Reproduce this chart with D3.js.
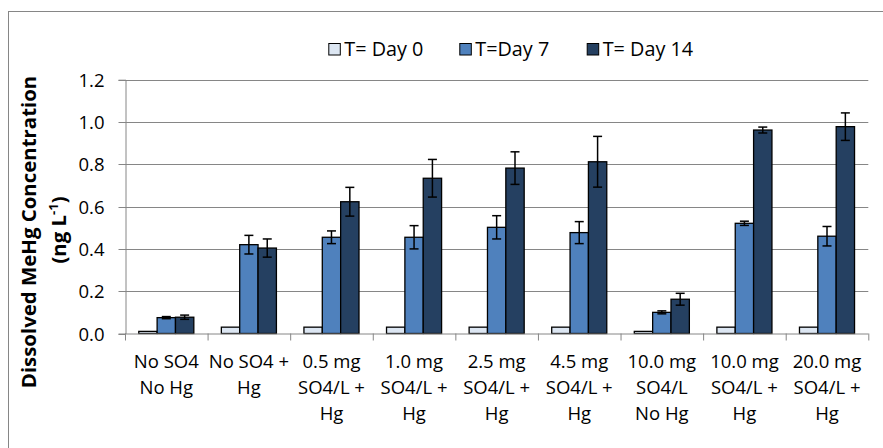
<!DOCTYPE html>
<html>
<head>
<meta charset="utf-8">
<script src="https://cdn.jsdelivr.net/npm/d3@7"></script>
<style>
  html, body { margin: 0; padding: 0; background: #fff; }
  svg { display: block; }
  text { font-family: "Open Sans", "Liberation Sans", sans-serif; fill: #000; }
</style>
</head>
<body>
<svg id="chart" width="883" height="448"></svg>
<script>
// Treatments (x-axis categories), one array of label lines each
const categories = [
  ["No SO4", "No Hg"],
  ["No SO4 +", "Hg"],
  ["0.5 mg", "SO4/L +", "Hg"],
  ["1.0 mg", "SO4/L +", "Hg"],
  ["2.5 mg", "SO4/L +", "Hg"],
  ["4.5 mg", "SO4/L +", "Hg"],
  ["10.0 mg", "SO4/L", "No Hg"],
  ["10.0 mg", "SO4/L +", "Hg"],
  ["20.0 mg", "SO4/L +", "Hg"]
];

const seriesNames = ["T= Day 0", "T=Day 7", "T= Day 14"];

// Mean dissolved MeHg (ng/L) per sampling day
const day0 = [0.01, 0.03, 0.03, 0.03, 0.03, 0.03, 0.01, 0.03, 0.03];
const day7 = [0.075, 0.42, 0.455, 0.455, 0.502, 0.477, 0.10, 0.521, 0.46];
const day14 = [0.077, 0.404, 0.623, 0.734, 0.782, 0.812, 0.162, 0.962, 0.978];

// Error bar half-widths (ng/L)
const day0Err = [0, 0, 0, 0, 0, 0, 0, 0, 0];
const day7Err = [0.005, 0.044, 0.03, 0.055, 0.055, 0.052, 0.007, 0.01, 0.046];
const day14Err = [0.01, 0.043, 0.068, 0.089, 0.077, 0.12, 0.028, 0.014, 0.065];

const yTicks = [0, 0.2, 0.4, 0.6, 0.8, 1.0, 1.2];

const colors = ["#dce6f2", "#4f81bd", "#254061"];
const values = [day0, day7, day14];
const errors = [day0Err, day7Err, day14Err];

const svg = d3.select("#chart");

// chart-area frame
svg.append("rect")
  .attr("x", 8.5).attr("y", 11.5)
  .attr("width", 900).attr("height", 460)
  .attr("fill", "none").attr("stroke", "#868686").attr("stroke-width", 1);

const plot = { left: 125, right: 868.3, top: 79.7, bottom: 333.5 };

const x0 = d3.scaleBand()
  .domain(d3.range(categories.length))
  .range([plot.left, plot.right])
  .paddingInner(0).paddingOuter(0);

// three touching bars per group, 150% gap between groups
const x1 = d3.scaleBand()
  .domain(d3.range(3))
  .range([0, x0.bandwidth()])
  .paddingInner(0)
  .paddingOuter(0.75);

const y = d3.scaleLinear().domain([0, 1.2]).range([plot.bottom, plot.top]);

// gridlines
svg.append("g")
  .selectAll("line")
  .data(yTicks.filter(d => d > 0))
  .join("line")
  .attr("x1", plot.left).attr("x2", plot.right)
  .attr("y1", d => Math.round(y(d)) + 0.5).attr("y2", d => Math.round(y(d)) + 0.5)
  .attr("stroke", "#868686").attr("stroke-width", 1);

// y axis
const yAxis = d3.axisLeft(y)
  .tickValues(yTicks)
  .tickFormat(d3.format(".1f"))
  .tickSize(7)
  .tickPadding(14);
const yg = svg.append("g")
  .attr("transform", `translate(${plot.left + 0.5},0)`)
  .call(yAxis);
yg.select(".domain").attr("stroke", "#868686");
yg.selectAll(".tick line").attr("stroke", "#868686");
yg.selectAll(".tick text")
  .attr("font-size", 18.5)
  .attr("font-family", "Open Sans")
  .attr("dy", "0.34em")
  .attr("fill", "#000");
yg.selectAll(".tick").attr("transform", d => `translate(0,${Math.round(y(d)) + 0.5})`);

// bars
const groups = svg.append("g")
  .selectAll("g")
  .data(categories.map((c, i) => i))
  .join("g")
  .attr("transform", i => `translate(${x0(i)},0)`);

groups.selectAll("rect")
  .data(i => values.map((v, s) => ({ s, v: v[i] })))
  .join("rect")
  .attr("x", d => x1(d.s))
  .attr("y", d => y(d.v))
  .attr("width", x1.bandwidth())
  .attr("height", d => y(0) - y(d.v))
  .attr("fill", d => colors[d.s])
  .attr("stroke", "#000")
  .attr("stroke-width", 1.3);

// error bars
const errG = groups.selectAll("g.err")
  .data(i => values.map((v, s) => ({ s, v: v[i], e: errors[s][i] })).filter(d => d.e > 0))
  .join("g")
  .attr("class", "err")
  .attr("transform", d => `translate(${x1(d.s) + x1.bandwidth() / 2},0)`);
errG.append("line")
  .attr("x1", 0).attr("x2", 0)
  .attr("y1", d => y(d.v + d.e)).attr("y2", d => y(d.v - d.e))
  .attr("stroke", "#000").attr("stroke-width", 1.5);
errG.selectAll("line.cap")
  .data(d => [d.v + d.e, d.v - d.e])
  .join("line")
  .attr("class", "cap")
  .attr("x1", -4.5).attr("x2", 4.5)
  .attr("y1", d => y(d)).attr("y2", d => y(d))
  .attr("stroke", "#000").attr("stroke-width", 1.5);

// x axis
svg.append("line")
  .attr("x1", plot.left).attr("x2", plot.right)
  .attr("y1", plot.bottom + 0.5).attr("y2", plot.bottom + 0.5)
  .attr("stroke", "#868686");
svg.append("g")
  .selectAll("line")
  .data(d3.range(categories.length + 1))
  .join("line")
  .attr("x1", i => plot.left + i * x0.bandwidth() + 0.5)
  .attr("x2", i => plot.left + i * x0.bandwidth() + 0.5)
  .attr("y1", plot.bottom).attr("y2", plot.bottom + 7)
  .attr("stroke", "#868686");

// category labels
const lbl = svg.append("g")
  .selectAll("text")
  .data(categories)
  .join("text")
  .attr("x", (d, i) => x0(i) + x0.bandwidth() / 2)
  .attr("y", 367.7)
  .attr("text-anchor", "middle")
  .attr("font-size", 18.5);
lbl.selectAll("tspan")
  .data(d => d)
  .join("tspan")
  .attr("x", function () { return this.parentNode.getAttribute("x"); })
  .attr("dy", (d, j) => j === 0 ? 0 : 26.2)
  .text(d => d);

// y-axis title
svg.append("text")
  .attr("transform", "translate(36,232) rotate(-90)")
  .attr("text-anchor", "middle")
  .attr("font-size", 20.4)
  .attr("font-weight", "bold")
  .text("Dissolved MeHg Concentration");
const t2 = svg.append("text")
  .attr("transform", "translate(66,230) rotate(-90)")
  .attr("text-anchor", "middle")
  .attr("font-size", 20.4)
  .attr("font-weight", "bold");
t2.append("tspan").text("(ng L");
t2.append("tspan").attr("font-size", 13).attr("dy", -8).text("-1");
t2.append("tspan").attr("dy", 8).text(")");

// legend
const legendX = [328.3, 459.3, 586.7];
const leg = svg.append("g")
  .selectAll("g")
  .data(seriesNames)
  .join("g")
  .attr("transform", (d, i) => `translate(${legendX[i]},43)`);
leg.append("rect")
  .attr("x", 0.5).attr("y", 0.5)
  .attr("width", 11.5).attr("height", 11.5)
  .attr("fill", (d, i) => colors[i])
  .attr("stroke", "#000").attr("stroke-width", 1);
leg.append("text")
  .attr("x", 16).attr("y", 12.5)
  .attr("font-size", 19.8)
  .text(d => d);
</script>
</body>
</html>
